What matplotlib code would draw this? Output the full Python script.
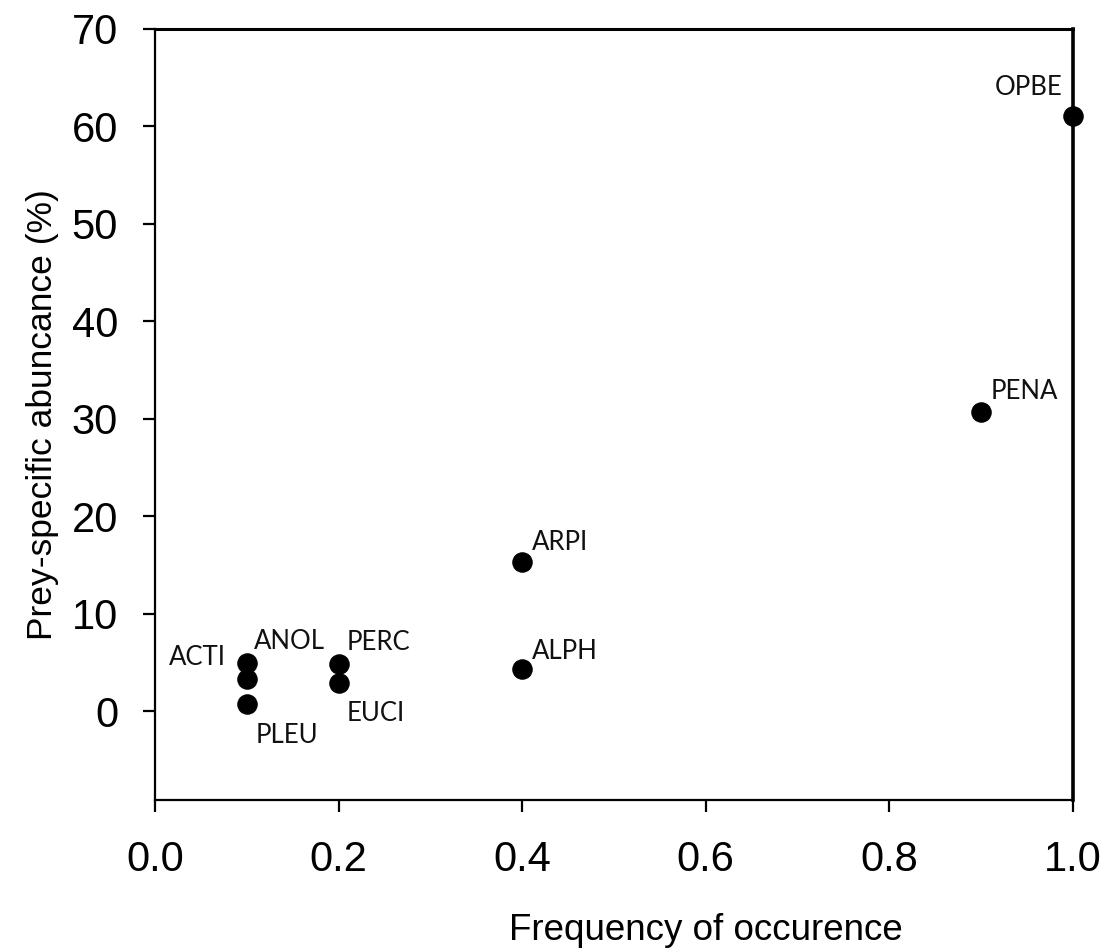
import matplotlib
matplotlib.use("Agg")
import matplotlib.pyplot as plt

# prey items: frequency of occurrence vs prey-specific abundance
codes = ["OPBE", "PENA", "ARPI", "ALPH", "PERC", "EUCI", "ANOL", "ACTI", "PLEU"]
freq = [1.0, 0.9, 0.4, 0.4, 0.2, 0.2, 0.1, 0.1, 0.1]
abund = [61.0, 30.7, 15.3, 4.3, 4.8, 2.9, 4.9, 3.3, 0.7]

# label offsets in pixels (dx, dy) from the dot, plus alignment
offsets = {
    "OPBE": (-10, 29, "right"),
    "PENA": (9, 20, "left"),
    "ARPI": (10, 20, "left"),
    "ALPH": (10, 18, "left"),
    "PERC": (8, 22, "left"),
    "EUCI": (8, -31, "left"),
    "ANOL": (7, 22, "left"),
    "ACTI": (-21, 22, "right"),
    "PLEU": (9, -31, "left"),
}

xticks = [0.0, 0.2, 0.4, 0.6, 0.8, 1.0]
yticks = [0, 10, 20, 30, 40, 50, 60, 70]

fig = plt.figure(figsize=(11.1, 9.51), dpi=100)
ax = fig.add_axes([0.1396, 0.1588, 0.827, 0.8112])

ax.scatter(freq, abund, s=190, color="black", zorder=3, clip_on=False)

for c, x, y in zip(codes, freq, abund):
    dx, dy, ha = offsets[c]
    ax.annotate(c, (x, y), xytext=(dx * 0.72, dy * 0.72), textcoords="offset points",
                ha=ha, va="center", fontsize=18.5, family="Lato", color="#111111")

ax.set_xlim(0, 1.0)
ax.set_ylim(-9.1, 70)
ax.set_xticks(xticks)
ax.set_xticklabels([f"{t:.1f}" for t in xticks])
ax.set_yticks(yticks)

for sp in ax.spines.values():
    sp.set_linewidth(1.6)
ax.spines["right"].set_linewidth(2.6)
ax.spines["top"].set_linewidth(2.2)

ax.tick_params(axis="both", direction="out", length=8.5, width=1.6,
               labelsize=30, pad=18)
ax.tick_params(axis="x", pad=20)
for lbl in ax.get_xticklabels() + ax.get_yticklabels():
    lbl.set_family("Liberation Sans")

ax.set_xlabel("Frequency of occurence", fontsize=26.5, family="Liberation Sans")
ax.xaxis.set_label_coords(0.6, -0.147)
ax.set_ylabel("Prey-specific abuncance (%)", fontsize=25.5, family="Liberation Sans", labelpad=9)

fig.savefig("out.png", dpi=100)
